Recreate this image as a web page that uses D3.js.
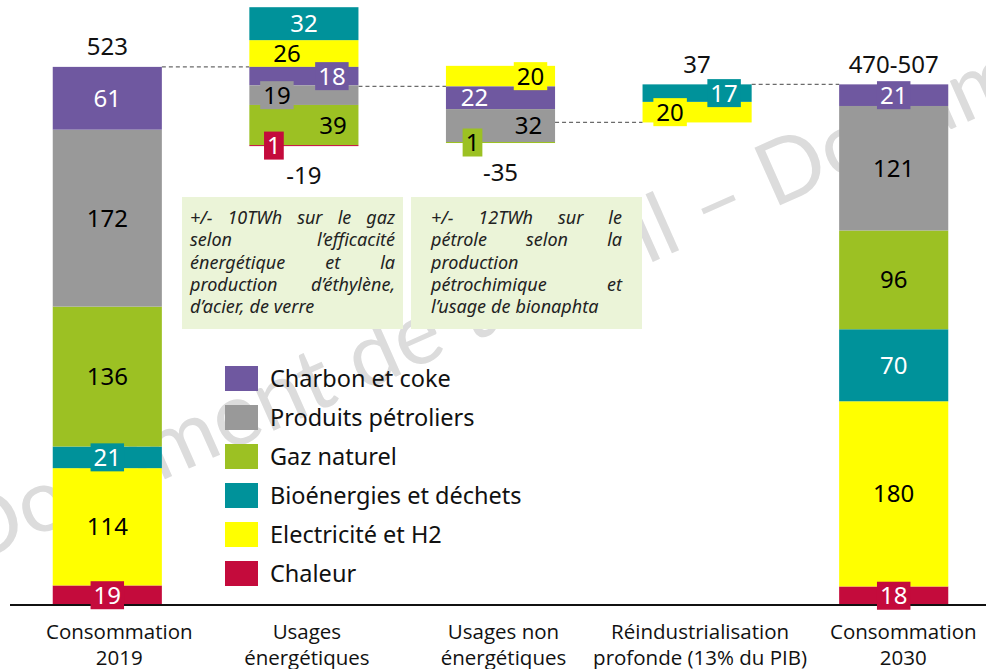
<!DOCTYPE html>
<html>
<head>
<meta charset="utf-8">
<script src="https://d3js.org/d3.v7.min.js"></script>
<style>
    body { margin: 0; background: #fff; }
    text { font-family: "Noto Sans", sans-serif; }
</style>
</head>
<body>
<div id="svg"></div>
<script>
// ---- data ----
var steps = ["Consommation 2019", "Usages énergétiques", "Usages non énergétiques",
             "Réindustrialisation profonde (13% du PIB)", "Consommation 2030"];
var stepLines = [["Consommation", "2019"], ["Usages", "énergétiques"], ["Usages non", "énergétiques"],
                 ["Réindustrialisation", "profonde (13% du PIB)"], ["Consommation", "2030"]];
var energies = ["Charbon et coke", "Produits pétroliers", "Gaz naturel",
                "Bioénergies et déchets", "Electricité et H2", "Chaleur"];
// values in the order of energies (TWh)
var conso2019 = [61, 172, 136, 21, 114, 19];
var usagesEnerg = [-18, -19, -39, 32, 26, -1];
var usagesNonEnerg = [-22, -32, -1, 0, 20, 0];
var reindus = [0, 0, 0, 17, 20, 0];
var conso2030 = [21, 121, 96, 70, 180, 18];
var totalLabels = ["523", "-19", "-35", "37", "470-507"];
var notes = [
    ["+/- 10TWh sur le gaz", "selon l’efficacité", "énergétique et la", "production d’éthylène,", "d’acier, de verre"],
    ["+/- 12TWh sur le", "pétrole selon la", "production", "pétrochimique et", "l’usage de bionaphta"]
];

// ---- layout ----
var colors = ["#6f58a0", "#999999", "#9cc123", "#00929a", "#ffff00", "#c40b3c"];
var textColors = ["#fff", "#000", "#000", "#fff", "#000", "#fff"];
// horizontal shift of segment labels in the waterfall columns
var labelShift = [[0, 0, 0, 0, 0, 0], [28, -27, 29, 0, -17, -30], [-26, 28, -28, 0, 30, 0],
                  [0, 0, 0, 27, -27, 0], [0, 0, 0, 0, 0, 0]];
var isTotal = [true, false, false, false, true];

var width = 986, height = 669;
var svg = d3.select("#svg").append("svg")
    .attr("width", width).attr("height", height);

var x = d3.scaleBand().domain(steps).range([9, 992]).paddingInner(0.445).paddingOuter(0.2225);
var y = d3.scaleLinear().domain([0, 588]).range([605, 0]);
var bw = x.bandwidth();

// watermark
svg.append("text")
    .attr("transform", "translate(-30,566) rotate(-24)")
    .style("font-family", "Lato, sans-serif")
    .style("font-size", "88px")
    .style("fill", "#dcdcdc")
    .text("Document de travail – Document de travail");

// ---- segments ----
var stepValues = [conso2019, usagesEnerg, usagesNonEnerg, reindus, conso2030];
var segs = [], levels = [];
var level = 0;
stepValues.forEach(function (vals, i) {
    var start = isTotal[i] ? 0 : level;
    var up = start, down = start;
    for (var k = energies.length - 1; k >= 0; k--) {
        if (vals[k] > 0) {
            segs.push({ i: i, k: k, y0: up, y1: up + vals[k], v: vals[k] });
            up += vals[k];
        }
    }
    for (var k = 0; k < energies.length; k++) {
        if (vals[k] < 0) {
            segs.push({ i: i, k: k, y0: down + vals[k], y1: down, v: -vals[k] });
            down += vals[k];
        }
    }
    var end = isTotal[i] ? up : start + d3.sum(vals);
    levels.push({ top: up, bottom: down, end: end });
    level = end;
});

// connectors
levels.slice(0, -1).forEach(function (l, i) {
    svg.append("line")
        .attr("x1", x(steps[i]) + bw).attr("x2", x(steps[i + 1]))
        .attr("y1", y(l.end)).attr("y2", y(l.end))
        .style("stroke", "#6b6b6b").style("stroke-width", 1.3)
        .style("stroke-dasharray", "4,3");
});

// notes (justified text)
var noteX = [182, 411], noteW = [221, 231], notePad = [8, 20];
notes.forEach(function (lines, n) {
    svg.append("rect")
        .attr("x", noteX[n]).attr("y", 197).attr("width", noteW[n]).attr("height", 132)
        .style("fill", "#ebf4d8");
    var left = noteX[n] + notePad[n], right = noteX[n] + noteW[n] - notePad[n];
    lines.forEach(function (line, li) {
        var words = line.split(" ");
        var yy = 224 + li * 22.3;
        var g = svg.append("g");
        var nodes = words.map(function (w) {
            return g.append("text").attr("y", yy)
                .style("font-style", "italic").style("font-size", "18px")
                .style("fill", "#222").text(w);
        });
        var widths = nodes.map(function (t) { return t.node().getComputedTextLength(); });
        var last = li === lines.length - 1 || words.length === 1;
        var gap = last ? 5 : (right - left - d3.sum(widths)) / (words.length - 1);
        var cx = left;
        nodes.forEach(function (t, wi) {
            t.attr("x", cx);
            cx += widths[wi] + gap;
        });
    });
});

svg.selectAll(".seg")
    .data(segs).enter()
    .append("rect")
    .attr("class", "seg")
    .attr("x", function (d) { return x(steps[d.i]); })
    .attr("width", bw)
    .attr("y", function (d) { return y(d.y1); })
    .attr("height", function (d) { return y(d.y0) - y(d.y1); })
    .style("fill", function (d) { return colors[d.k]; });

// axis line
svg.append("line")
    .attr("x1", 10).attr("x2", 986).attr("y1", y(0)).attr("y2", y(0))
    .style("stroke", "#111").style("stroke-width", 2);

// segment labels
segs.forEach(function (d) {
    var cx = x(steps[d.i]) + bw / 2 + labelShift[d.i][d.k];
    var cy = y((d.y0 + d.y1) / 2);
    var t = svg.append("text")
        .attr("x", cx).attr("y", cy + 8.5)
        .attr("text-anchor", "middle")
        .style("font-size", "24px")
        .style("fill", textColors[d.k])
        .text(d.v);
    if (d.v < 22) {
        var w = t.node().getComputedTextLength();
        svg.insert("rect", function () { return t.node(); })
            .attr("x", cx - w / 2 - 3).attr("y", cy - 14)
            .attr("width", w + 6).attr("height", 28)
            .style("fill", colors[d.k]);
    }
});

// totals
levels.forEach(function (l, i) {
    var below = totalLabels[i][0] === "-";
    var cy = below ? y(l.bottom) + 29 : y(l.top) - 20;
    svg.append("text")
        .attr("x", x(steps[i]) + bw / 2).attr("y", cy + 8.5)
        .attr("text-anchor", "middle")
        .style("font-size", "24px")
        .style("fill", "#111")
        .text(totalLabels[i]);
});

// category labels
stepLines.forEach(function (lines, i) {
    var t = svg.append("text")
        .attr("x", x(steps[i]) + bw / 2 + (isTotal[i] ? 12 * (i === 0 ? 1 : 0.8) : 3))
        .attr("text-anchor", "middle")
        .style("font-family", "'Open Sans', sans-serif")
        .style("font-size", "20.5px")
        .style("fill", "#111");
    lines.forEach(function (s, li) {
        t.append("tspan").attr("x", t.attr("x")).attr("y", 639 + li * 26).text(s);
    });
});

// legend
energies.forEach(function (e, k) {
    svg.append("rect")
        .attr("x", 225).attr("y", 366 + k * 39).attr("width", 33).attr("height", 25)
        .style("fill", colors[k]);
    svg.append("text")
        .attr("x", 270).attr("y", 387 + k * 39)
        .style("font-size", "23.5px").style("fill", "#111")
        .text(e);
});
</script>
</body>
</html>
